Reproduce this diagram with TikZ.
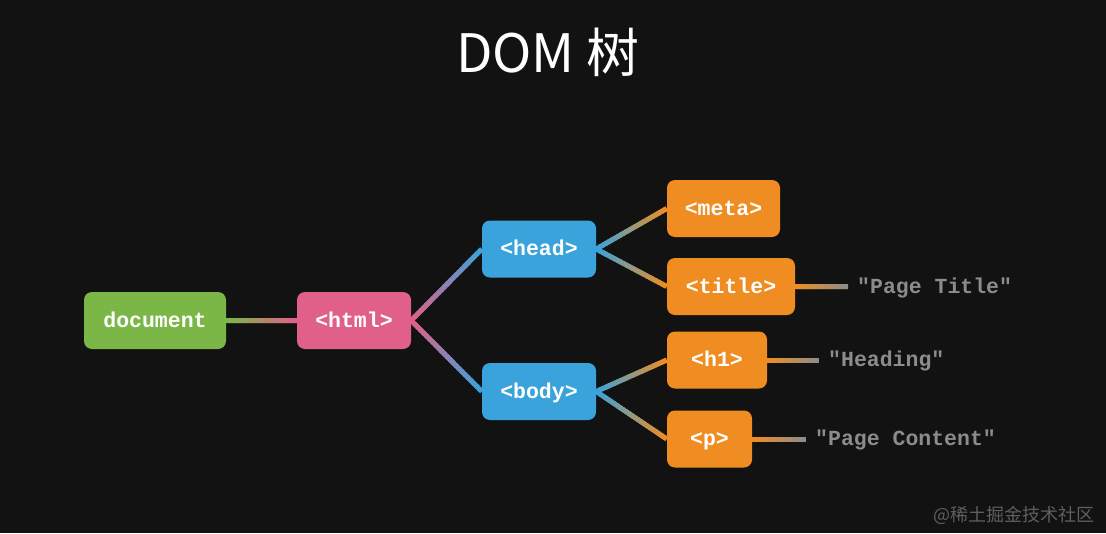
\documentclass[tikz,border=0pt]{standalone}
\usepackage{fontspec}
\setmainfont{Noto Sans CJK SC}
\newfontfamily\tagfont{Liberation Mono}
\newfontfamily\cjkfont{Noto Sans CJK SC}
\usepackage{tikz}
\usetikzlibrary{calc}
\usetikzlibrary{backgrounds}
\definecolor{bg}{RGB}{18,18,18}
\definecolor{docgreen}{RGB}{122,183,70}
\definecolor{htmlpink}{RGB}{224,96,138}
\definecolor{tagblue}{RGB}{58,163,220}
\definecolor{leaforange}{RGB}{239,141,34}
\definecolor{strgray}{RGB}{140,140,140}
\definecolor{markgray}{RGB}{95,95,95}
\tikzset{
	tag/.style={rounded corners=8pt, inner sep=0pt, minimum height=57pt,
		text=white, font=\tagfont\bfseries\fontsize{21.5}{24}\selectfont,
		text height=15pt, text depth=2pt},
	textleaf/.style={anchor=west, inner sep=0pt, inner xsep=9pt,
		text=strgray, font=\tagfont\bfseries\fontsize{21.5}{24}\selectfont,
		text height=15pt, text depth=2pt},
	link/.style={line width=5pt},
}
% colour-blended connector: from, to, start colour, end colour
\newcommand\gradlink[4]{%
	\foreach \i in {0,...,23}{
		\pgfmathsetmacro\pa{\i/24}
		\pgfmathsetmacro\pb{min((\i+1.6)/24,1)}
		\pgfmathtruncatemacro\mix{100*\i/23}
		\draw[link, color=#4!\mix!#3] ($(#1)!\pa!(#2)$)--($(#1)!\pb!(#2)$);
	}}

\begin{document}
\begin{tikzpicture}[x=1pt, y=-1pt]
	\useasboundingbox (0,0) rectangle (1106,533);
	\node[text=white, font=\cjkfont\fontsize{53}{60}\selectfont] (dom) at (548,52) {DOM 树};
	\node[tag, fill=docgreen, minimum width=142pt] (doc) at (155,320.5) {document};
	\node[tag, fill=htmlpink, minimum width=114pt] (html) at (354,320.5) {<html>};
	\node[tag, fill=tagblue, minimum width=114pt] (head) at (539,249) {<head>};
	\node[tag, fill=tagblue, minimum width=114pt] (body) at (539,391.5) {<body>};
	\node[tag, fill=leaforange, minimum width=113pt] (meta) at (723.5,208.5) {<meta>};
	\node[tag, fill=leaforange, minimum width=128pt] (title) at (731,286.5) {<title>};
	\node[tag, fill=leaforange, minimum width=100pt] (h1) at (717,360) {<h1>};
	\node[tag, fill=leaforange, minimum width=85pt] (p) at (709.5,439) {<p>};
	\node[textleaf] (ptitle) at (848,286.5) {"Page Title"};
	\node[textleaf] (phead) at (819,360) {"Heading"};
	\node[textleaf] (pcont) at (806,439) {"Page Content"};
	\node[anchor=east, text=markgray, font=\cjkfont\fontsize{18}{20}\selectfont] (juejin) at (1098,515) {@稀土掘金技术社区};
	\begin{scope}[on background layer]
		\fill[bg] (0,0) rectangle (1106,533);
		\gradlink{doc.east}{html.west}{docgreen}{htmlpink}
		\gradlink{html.east}{head.west}{htmlpink}{tagblue}
		\gradlink{html.east}{body.west}{htmlpink}{tagblue}
		\gradlink{head.east}{meta.west}{tagblue}{leaforange}
		\gradlink{head.east}{title.west}{tagblue}{leaforange}
		\gradlink{body.east}{h1.west}{tagblue}{leaforange}
		\gradlink{body.east}{p.west}{tagblue}{leaforange}
		\gradlink{title.east}{ptitle.west}{leaforange}{strgray}
		\gradlink{h1.east}{phead.west}{leaforange}{strgray}
		\gradlink{p.east}{pcont.west}{leaforange}{strgray}
	\end{scope}
\end{tikzpicture}
\end{document}
